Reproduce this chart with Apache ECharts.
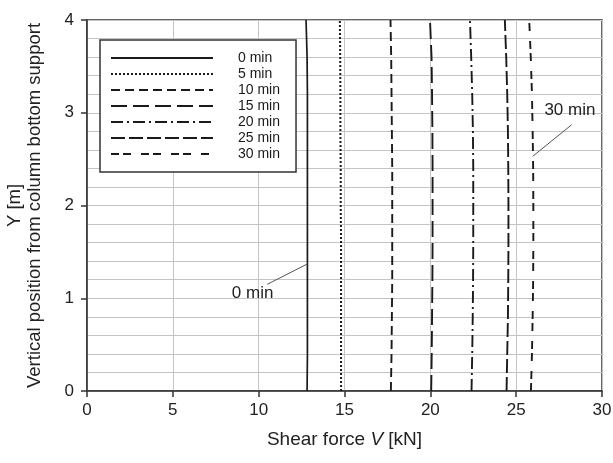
<!DOCTYPE html>
<html>
<head>
<meta charset="utf-8">
<script src="https://cdn.jsdelivr.net/npm/echarts@6/dist/echarts.min.js"></script>
<style>
html,body{margin:0;padding:0;background:#fff;}
#c{width:613px;height:463px;}
</style>
</head>
<body>
<div id="c"></div>
<script>
// Vertical positions (m)
const yLevels = [0, 0.4, 0.8, 1.2, 1.6, 2.0, 2.4, 2.8, 3.2, 3.6, 4.0];
// Series names
const seriesNames = ['0 min', '5 min', '10 min', '15 min', '20 min', '25 min', '30 min'];
// Shear force (kN) at each yLevel, per series
const v0  = [12.82, 12.84, 12.84, 12.84, 12.84, 12.84, 12.84, 12.84, 12.84, 12.82, 12.76];
const v5  = [14.80, 14.80, 14.80, 14.80, 14.80, 14.78, 14.78, 14.76, 14.76, 14.75, 14.73];
const v10 = [17.70, 17.74, 17.76, 17.78, 17.78, 17.78, 17.78, 17.76, 17.74, 17.72, 17.68];
const v15 = [20.05, 20.08, 20.10, 20.12, 20.13, 20.13, 20.13, 20.12, 20.10, 20.07, 19.98];
const v20 = [22.40, 22.44, 22.47, 22.49, 22.50, 22.50, 22.50, 22.48, 22.44, 22.38, 22.31];
const v25 = [24.44, 24.48, 24.52, 24.54, 24.55, 24.55, 24.54, 24.52, 24.48, 24.42, 24.34];
const v30 = [25.86, 25.92, 25.96, 25.99, 26.00, 26.00, 25.99, 25.96, 25.92, 25.85, 25.76];
const seriesValues = [v0, v5, v10, v15, v20, v25, v30];
// Axis ticks
const xTicks = [0, 5, 10, 15, 20, 25, 30];
const yTicks = [0, 1, 2, 3, 4];
// Annotations
const noteTexts = ['0 min', '30 min'];
const noteSeries = [0, 6];
const notePos = [[9.65, 1.05], [28.13, 3.03]];
const leaderFrom = [[10.5, 1.15], [28.23, 2.87]];
const leaderTo = [[12.84, 1.37], [25.96, 2.53]];

const dashStyles = [
  {type: 'solid', width: 1.7},
  {type: [2, 2], width: 2},
  {type: [9, 5], width: 1.9},
  {type: [16, 6], width: 1.9},
  {type: [12, 4, 2, 4], width: 1.9},
  {type: [14, 4], width: 1.9},
  {type: [8, 4, 8, 10], width: 1.9}
];

const FONT = 'Liberation Sans, Arial, sans-serif';

const series = seriesNames.map((name, i) => {
  const s = {
    name: name,
    type: 'line',
    symbol: 'none',
    showSymbol: false,
    smooth: false,
    data: yLevels.map((y, k) => [seriesValues[i][k], y]),
    lineStyle: {color: '#1a1a1a', width: dashStyles[i].width, type: dashStyles[i].type},
    itemStyle: {color: '#1a1a1a'},
    z: 3
  };
  const n = noteSeries.indexOf(i);
  if (n >= 0) {
    s.markLine = {
      silent: true,
      symbol: 'none',
      animation: false,
      label: {show: false},
      lineStyle: {color: '#555', width: 1, type: 'solid'},
      data: [[{coord: leaderFrom[n]}, {coord: leaderTo[n]}]]
    };
    s.markPoint = {
      silent: true,
      symbol: 'circle',
      symbolSize: 0,
      animation: false,
      label: {show: true, position: 'inside', formatter: noteTexts[n], color: '#222', fontSize: 17, fontFamily: FONT},
      data: [{coord: notePos[n]}]
    };
  }
  return s;
});

const chart = echarts.init(document.getElementById('c'), null, {renderer: 'canvas'});
chart.setOption({
  animation: false,
  backgroundColor: '#fff',
  grid: {left: 87, right: 11, top: 20, bottom: 72, show: true, containLabel: false, outerBoundsMode: 'none', borderColor: '#333', borderWidth: 1.5, backgroundColor: 'transparent'},
  legend: {
    orient: 'vertical',
    left: 100,
    top: 40,
    padding: [11, 16, 11, 10],
    itemGap: 2,
    itemWidth: 102,
    itemHeight: 14,
    backgroundColor: '#fff',
    borderColor: '#333',
    borderWidth: 1.5,
    borderRadius: 0,
    data: seriesNames,
    itemStyle: {opacity: 0, borderWidth: 0},
    textStyle: {fontSize: 14, fontFamily: FONT, color: '#1a1a1a', padding: [0, 0, 0, 20]}
  },
  xAxis: {
    type: 'value',
    min: xTicks[0],
    max: xTicks[xTicks.length - 1],
    interval: 5,
    name: '{n|Shear force }{i|V}{n| [kN]}',
    nameLocation: 'middle',
    nameGap: 39,
    nameTextStyle: {
      rich: {
        n: {fontSize: 19, fontFamily: FONT, color: '#222'},
        i: {fontSize: 19, fontFamily: FONT, color: '#222', fontStyle: 'italic'}
      }
    },
    axisLine: {show: true, lineStyle: {color: '#333', width: 1.5}},
    axisTick: {show: true, inside: false, length: 6, lineStyle: {color: '#333', width: 1.5}},
    axisLabel: {fontSize: 17, fontFamily: FONT, color: '#222', margin: 11},
    splitLine: {show: true, lineStyle: {color: '#c4c4c4', width: 1}}
  },
  yAxis: {
    type: 'value',
    min: yTicks[0],
    max: yTicks[yTicks.length - 1],
    interval: 1,
    name: 'Y [m]\nVertical position from column bottom support',
    nameLocation: 'middle',
    nameGap: 42,
    nameTextStyle: {fontSize: 18.5, fontFamily: FONT, color: '#222', lineHeight: 20},
    axisLine: {show: true, lineStyle: {color: '#333', width: 1.5}},
    axisTick: {show: true, inside: false, length: 6, lineStyle: {color: '#333', width: 1.5}},
    axisLabel: {fontSize: 17, fontFamily: FONT, color: '#222', margin: 13},
    splitLine: {show: true, lineStyle: {color: '#c4c4c4', width: 1}},
    minorTick: {show: false, splitNumber: 5},
    minorSplitLine: {show: true, lineStyle: {color: '#c4c4c4', width: 1}}
  },
  series: series
});
</script>
</body>
</html>
